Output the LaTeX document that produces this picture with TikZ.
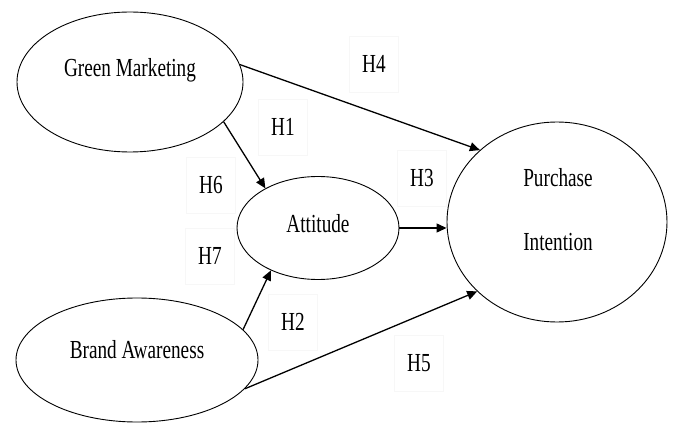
\documentclass[tikz,border=0pt]{standalone}
\usepackage{fontspec}
\usepackage{graphicx}
\setmainfont{Liberation Serif}
\usetikzlibrary{shapes.geometric,arrows.meta}
\newcommand{\sqz}[1]{\scalebox{0.74}[1]{#1}}
\begin{document}
\begin{tikzpicture}[x=1pt,y=-1pt,
  ell/.style={draw, ellipse, line width=0.9pt, inner sep=0pt},
  txt/.style={inner sep=0pt, font=\fontsize{26}{28}\selectfont},
  lab/.style={draw=black!3, minimum width=49, minimum height=56, inner sep=0pt, font=\fontsize{26}{28}\selectfont},
  arr/.style={line width=1.3pt, -{Triangle[length=10pt,width=9pt]}}]
\useasboundingbox[fill=white] (0,0) rectangle (673,425);
% ellipses
\node[ell, minimum width=226, minimum height=140] (gm) at (130,82) {};
\node[txt] (gmt) at (130,70) {\sqz{Green Marketing}};
\node[ell, minimum width=162, minimum height=103] (att) at (318,228) {};
\node[txt] (attt) at (318,224) {\sqz{Attitude}};
\node[ell, minimum width=220, minimum height=200] (pi) at (557,222) {};
\node[txt] (pit1) at (558,178) {\sqz{Purchase}};
\node[txt] (pit2) at (558,242) {\sqz{Intention}};
\node[ell, minimum width=242, minimum height=124] (ba) at (137,360) {};
\node[txt] (bat) at (137,350) {\sqz{Brand Awareness}};
% labels
\node[lab] (h4) at (374,64) {\sqz{H4}};
\node[lab] (h1) at (283,127) {\sqz{H1}};
\node[lab] (h6) at (211,185) {\sqz{H6}};
\node[lab] (h3) at (422,178) {\sqz{H3}};
\node[lab] (h7) at (210,256) {\sqz{H7}};
\node[lab] (h2) at (293,322) {\sqz{H2}};
\node[lab] (h5) at (419,363) {\sqz{H5}};
% arrows
\draw[arr] (gm.9) -- (pi.137);
\draw[arr] (gm.-23) -- (att.143);
\draw[arr] (att.east) -- (pi.west |- att.east);
\draw[arr] (ba.16) -- (att.222);
\draw[arr] (ba.-15) -- (pi.221);
\end{tikzpicture}
\end{document}
